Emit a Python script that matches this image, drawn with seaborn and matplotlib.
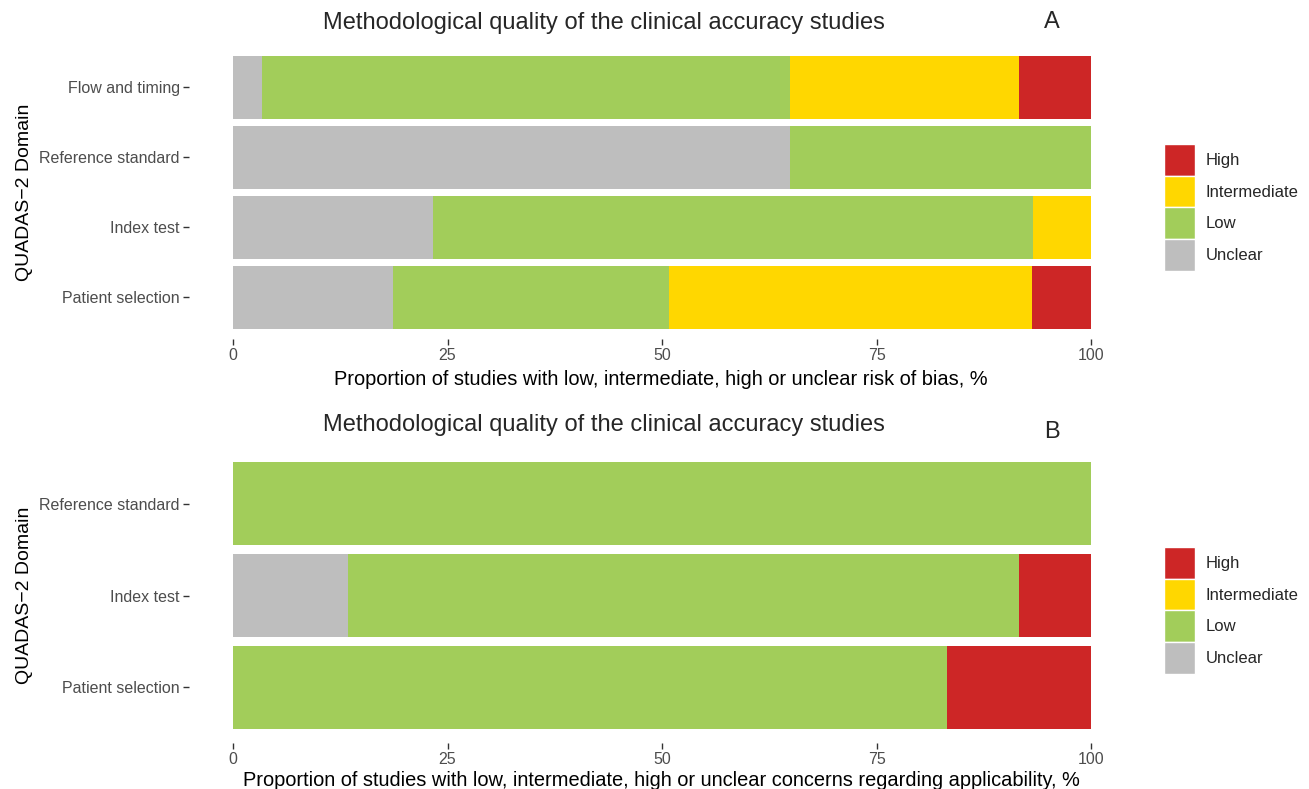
import matplotlib
matplotlib.use("Agg")
import matplotlib.pyplot as plt
import matplotlib.patches as mpatches
import pandas as pd
import seaborn as sns

sns.set_style("white")
plt.rcParams['font.family'] = ['Liberation Sans', 'DejaVu Sans']

# risk levels and colours (ggplot-like)
levels = ["Unclear", "Low", "Intermediate", "High"]
colors = {"High": "#CD2626", "Intermediate": "#FFD700", "Low": "#A2CD5A", "Unclear": "#BEBEBE"}

# panel A: risk of bias
domains_a = ["Flow and timing", "Reference standard", "Index test", "Patient selection"]
unclear_a = [3.4, 64.9, 23.3, 18.6]
low_a = [61.5, 35.1, 69.9, 32.2]
intermediate_a = [26.7, 0.0, 6.8, 42.3]
high_a = [8.4, 0.0, 0.0, 6.9]

# panel B: applicability concerns
domains_b = ["Reference standard", "Index test", "Patient selection"]
unclear_b = [0.0, 13.4, 0.0]
low_b = [100.0, 78.2, 83.2]
intermediate_b = [0.0, 0.0, 0.0]
high_b = [0.0, 8.4, 16.8]

title = "Methodological quality of the clinical accuracy studies"
xlab_a = "Proportion of studies with low, intermediate, high or unclear risk of bias, %"
xlab_b = "Proportion of studies with low, intermediate, high or unclear concerns regarding applicability, %"

W, H = 1309, 789
fig = plt.figure(figsize=(W / 100, H / 100), dpi=100)


def fx(x):
    return x / W


def fy(y):
    return 1 - y / H


def px_axes(left, right, top, bottom):
    return fig.add_axes([fx(left), fy(bottom), (right - left) / W, (bottom - top) / H])


def stacked(ax, domains, unclear, low, inter, high):
    df = pd.DataFrame({"domain": domains, "Unclear": unclear, "Low": low,
                       "Intermediate": inter, "High": high})
    cum = df[levels].cumsum(axis=1)
    # draw from the longest cumulative bar to the shortest so each covers the previous
    for lev in reversed(levels):
        sns.barplot(x=cum[lev], y=df["domain"], order=domains, orient="h",
                    color=colors[lev], width=0.9, saturation=1, ax=ax, linewidth=0)
    # panel starts a little left of 0, like the ggplot original
    ax.set_xlim(-5.13, 100)
    ax.set_ylim(len(domains) - 0.4, -0.6)
    ax.set_xticks([0, 25, 50, 75, 100])
    ax.set_xticklabels(["0", "25", "50", "75", "100"])
    for s in ax.spines.values():
        s.set_visible(False)
    ax.tick_params(axis="both", which="both", length=4, width=1, color="#333333",
                   labelcolor="#4D4D4D", labelsize=11.5, pad=2.5, direction="out")
    ax.tick_params(axis="x", bottom=True)
    ax.tick_params(axis="y", left=True)
    ax.set_ylabel("QUADAS\u22122 Domain", fontsize=14, color="black")
    ax.yaxis.set_label_coords(fx(33), 0.5, transform=fig.transFigure)
    ax.yaxis.label.set_y(0.5)


def legend_at(x, y):
    handles = [mpatches.Patch(facecolor=colors[l], edgecolor="white", linewidth=1.0, label=l)
               for l in ["High", "Intermediate", "Low", "Unclear"]]
    fig.legend(handles=handles, loc="upper left", bbox_to_anchor=(fx(x), fy(y)),
               frameon=False, fontsize=12, handlelength=1.85, handleheight=2.55,
               labelspacing=0.0, handletextpad=0.65, borderpad=0, borderaxespad=0)


# panel A
ax1 = px_axes(189, 1091, 45, 339)
stacked(ax1, domains_a, unclear_a, low_a, intermediate_a, high_a)
ax1.set_xlabel(xlab_a, fontsize=14.4, color="black")
ax1.xaxis.set_label_coords(fx(661), fy(370), transform=fig.transFigure)
ax1.yaxis.set_label_coords(fx(33), fy(192), transform=fig.transFigure)
fig.text(fx(604), fy(23), title, ha="center", va="center", fontsize=17)
fig.text(fx(1052), fy(22), "A", ha="center", va="center", fontsize=17)
legend_at(1164, 144)

# panel B
ax2 = px_axes(189, 1091, 448.5, 742.5)
stacked(ax2, domains_b, unclear_b, low_b, intermediate_b, high_b)
ax2.set_xlabel(xlab_b, fontsize=14.4, color="black")
ax2.xaxis.set_label_coords(fx(661), fy(771), transform=fig.transFigure)
ax2.yaxis.set_label_coords(fx(33), fy(595.5), transform=fig.transFigure)
fig.text(fx(604), fy(425), title, ha="center", va="center", fontsize=17)
fig.text(fx(1052), fy(432), "B", ha="center", va="center", fontsize=17)
legend_at(1164, 547)

fig.savefig("out.png", dpi=100)
